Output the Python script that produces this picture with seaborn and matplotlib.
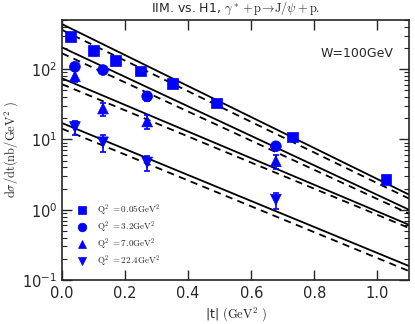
import numpy as np
import pandas as pd
import matplotlib
matplotlib.use("Agg")
import matplotlib.pyplot as plt
import seaborn as sns

# ---- data ----
t_sq = [0.028, 0.10, 0.17, 0.25, 0.35, 0.49, 0.73, 1.027]
y_sq = [290, 182, 133, 94, 62, 33, 10.8, 2.7]
e_sq = [15, 10, 8, 6, 4, 2.5, 0.8, 0.3]

t_ci = [0.041, 0.13, 0.27, 0.678]
y_ci = [108, 97, 41, 8.0]
e_ci = [12, 10, 6, 1.0]

t_up = [0.041, 0.13, 0.27, 0.678]
y_up = [79, 27.5, 18, 4.9]
e_up = [14, 6, 4, 1.1]

t_dn = [0.041, 0.13, 0.27, 0.678]
y_dn = [15, 9.1, 4.7, 1.39]
e_dn = [3.5, 2.5, 1.2, 0.35]

labels = [r"$\mathrm{Q^2\ =0.05GeV^2}$", r"$\mathrm{Q^2\ =3.2GeV^2}$",
          r"$\mathrm{Q^2\ =7.0GeV^2}$", r"$\mathrm{Q^2\ =22.4GeV^2}$"]
markers = ["s", "o", "^", "v"]

# model curves (straight on log scale): values at t=0 and t=1.1
t_line = [0.0, 1.1]
solid = [[437, 1.64], [204, 1.0], [74, 0.61], [17.1, 0.158]]
dashed = [[361, 1.44], [168, 0.88], [61, 0.55], [14.2, 0.134]]

sns.set_style("ticks")
plt.rcParams["mathtext.fontset"] = "cm"
plt.rcParams["font.family"] = ["DejaVu Sans"]

fig = plt.figure(figsize=(4.15, 3.24), dpi=100)
ax = fig.add_axes([62/415, 1-280/324, 347/415, 260/324])

rows = []
for lab, ts, ys in zip(labels, [t_sq, t_ci, t_up, t_dn], [y_sq, y_ci, y_up, y_dn]):
    for t, y in zip(ts, ys):
        rows.append({"t": t, "y": y, "Q2": lab})
df = pd.DataFrame(rows)

lines = []
for i, (s, d) in enumerate(zip(solid, dashed)):
    for t, v in zip(t_line, s):
        lines.append({"t": t, "y": v, "curve": f"s{i}", "kind": "solid"})
    for t, v in zip(t_line, d):
        lines.append({"t": t, "y": v, "curve": f"d{i}", "kind": "dashed"})
ldf = pd.DataFrame(lines)

for c, sub in ldf.groupby("curve"):
    ls = "-" if sub["kind"].iloc[0] == "solid" else (0, (4, 3))
    sns.lineplot(data=sub, x="t", y="y", ax=ax, color="black", lw=1.3,
                 linestyle=ls, legend=False, zorder=2)

for ts, ys, es in zip([t_sq, t_ci, t_up, t_dn], [y_sq, y_ci, y_up, y_dn],
                      [e_sq, e_ci, e_up, e_dn]):
    ax.errorbar(ts, ys, yerr=es, fmt="none", ecolor="blue", elinewidth=1.2,
                capsize=2.5, capthick=1.2, zorder=3)

sns.scatterplot(data=df, x="t", y="y", hue="Q2", style="Q2",
                markers=dict(zip(labels, markers)),
                palette=dict(zip(labels, ["blue"] * 4)),
                s=60, edgecolor="blue", linewidth=0.5, ax=ax, zorder=4)

ax.set_yscale("log")
ax.set_xlim(0, 1.1)
ax.set_ylim(0.1, 500)
ax.set_xticks([0.0, 0.2, 0.4, 0.6, 0.8, 1.0])
ax.set_xticklabels(["0.0", "0.2", "0.4", "0.6", "0.8", "1.0"])
ax.tick_params(which="both", direction="in", top=True, right=True, labelsize=10.5)
ax.tick_params(which="major", length=7, width=1)
ax.tick_params(which="minor", length=3.5, width=0.8)
ax.tick_params(axis="x", pad=4)
for sp in ax.spines.values():
    sp.set_linewidth(1.2)

ax.set_xlabel(r"|t| $\mathrm{(GeV^2\ )}$", fontsize=9, labelpad=3)
ax.set_ylabel(r"$\mathrm{d\sigma/dt(nb/GeV^2\ )}$", fontsize=9, labelpad=2)
ax.set_title(r"IIM. vs. H1, $\gamma^*+\mathrm{p}\!\rightarrow\!\mathrm{J}/\psi+\mathrm{p.}$",
             fontsize=9, pad=6)
ax.text(0.955, 0.87, "W=100GeV", transform=ax.transAxes, ha="right",
        va="center", fontsize=9)

h, l = ax.get_legend_handles_labels()
ax.legend(h, l, loc="lower left", frameon=False, fontsize=6.5,
          handletextpad=0.7, labelspacing=0.2, borderaxespad=0.8,
          markerscale=0.8, bbox_to_anchor=(0.0, 0.0))

fig.savefig("out.png", dpi=100)
